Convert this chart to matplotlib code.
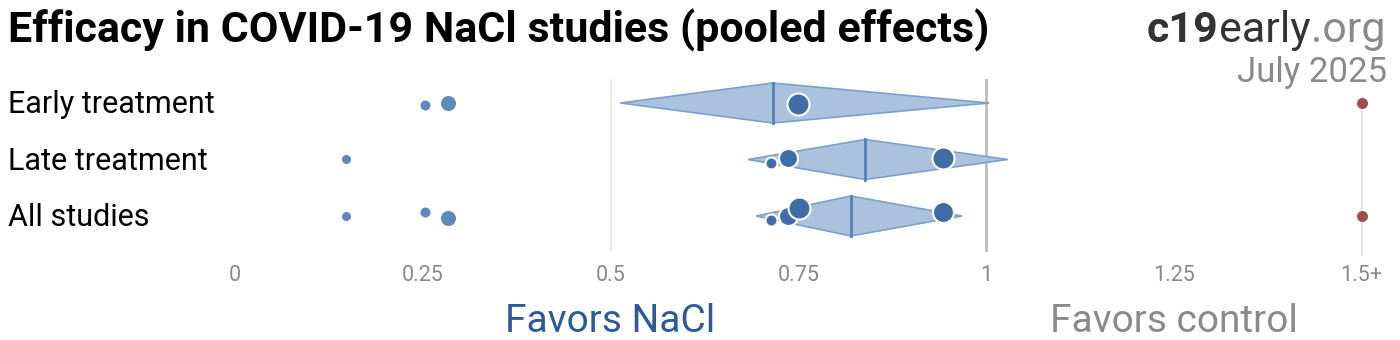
import matplotlib.pyplot as plt
from matplotlib.patches import Polygon

plt.rcParams['font.family'] = ['Roboto', 'DejaVu Sans']

# --- data ---
groups = ['Early treatment', 'Late treatment', 'All studies']
# pooled effect: lower, estimate, upper
pooled_lo = [0.513, 0.683, 0.694]
pooled_est = [0.716, 0.839, 0.820]
pooled_hi = [1.004, 1.029, 0.968]
# individual studies (1.5 = clipped at 1.5+)
early_vals = [0.253, 0.284, 0.750, 1.5]
early_wts = [5, 7.5, 10, 5.5]
early_jit = [2, 0, 1, 0]
late_vals = [0.148, 0.714, 0.736, 0.943]
late_wts = [4.5, 5, 8.5, 10]
late_jit = [0, 3, -1, -1]
all_vals = [0.148, 0.253, 0.284, 0.714, 0.736, 0.751, 0.943, 1.5]
all_wts = [4.5, 5, 7.5, 5, 8.5, 10, 9.5, 5.5]
all_jit = [0, -4, 2, 4, 0, -8, -4, 0]
ticks = [0, 0.25, 0.5, 0.75, 1, 1.25, 1.5]
tick_labels = ['0', '0.25', '0.5', '0.75', '1', '1.25', '1.5+']

W, H = 1400, 340
X0, X1 = 235, 986          # pixel of x=0 and x=1
ROW0, ROWSTEP = 103, 56.5  # pixel of first row and spacing

fig = plt.figure(figsize=(W / 100, H / 100), dpi=100)
ax = fig.add_axes([0, 0, 1, 1])
ax.set_xlim(-X0 / (X1 - X0), (W - X0) / (X1 - X0))
ax.set_ylim((H - ROW0) / ROWSTEP, -ROW0 / ROWSTEP)
ax.axis('off')

def py(p):
    # pixel offset -> row units
    return p / ROWSTEP

# grid lines
ax.plot([0.5, 0.5], [py(80 - ROW0), py(250 - ROW0)], color='#e6e6e6', lw=1.2, zorder=0)
ax.plot([1.5, 1.5], [py(98 - ROW0), py(255 - ROW0)], color='#e6e6e6', lw=1.5, zorder=0)
ax.plot([1, 1], [py(80 - ROW0), py(250 - ROW0)], color='#bdbdbd', lw=2, zorder=0)

half = py(20)
for i in range(len(groups)):
    lo, est, hi = pooled_lo[i], pooled_est[i], pooled_hi[i]
    dia = Polygon([(lo, i), (est, i - half), (hi, i), (est, i + half)], closed=True,
                  facecolor='#abc2df', edgecolor='#7ba0cb', lw=1.2, zorder=2)
    ax.add_patch(dia)
    ax.plot([est, est], [i - half, i + half], color='#5680b5', lw=2, zorder=3)

rows = [(early_vals, early_wts, early_jit), (late_vals, late_wts, late_jit),
        (all_vals, all_wts, all_jit)]
for i, (vals, wts, jit) in enumerate(rows):
    for v, r, j in zip(vals, wts, jit):
        s = (2 * r * 0.72) ** 2
        y = i + py(j)
        if v >= 1.5:
            ax.scatter(v, y, s=s, color='#a44a4c', zorder=4, linewidths=0)
        elif v < pooled_lo[i]:
            ax.scatter(v, y, s=s, color='#5f89bb', zorder=4, linewidths=0)
        else:
            ax.scatter(v, y, s=(2 * (r + 1) * 0.72) ** 2, color='#3f6ea6',
                       edgecolors='white', linewidths=1.5, zorder=4)

for t, lab in zip(ticks, tick_labels):
    ax.text(t, py(281 - ROW0), lab, ha='center', va='baseline', fontsize=15.5, color='#8a8a8a')

for i, g in enumerate(groups):
    fig.text(8 / W, 1 - (ROW0 + 10.5 + i * ROWSTEP) / H, g, ha='left', va='baseline',
             fontsize=22, color='black')

ax.text(0.5, py(332 - ROW0), 'Favors NaCl', ha='center', va='baseline', fontsize=28, color='#2b5b98')
ax.text(1.25, py(332 - ROW0), 'Favors control', ha='center', va='baseline', fontsize=28, color='#8a8a8a')

fig.text(8 / W, 1 - 42 / H, 'Efficacy in COVID-19 NaCl studies (pooled effects)', ha='left',
         va='baseline', fontsize=31, fontweight='bold', color='black')

# logo: c19 bold, early regular, .org grey, right aligned
t1 = fig.text(1385 / W, 1 - 42 / H, '.org', ha='right', va='baseline', fontsize=31, color='#8a8a8a')
fig.canvas.draw()
bb = t1.get_window_extent()
t2 = fig.text(bb.x0 / W, 1 - 42 / H, 'early', ha='right', va='baseline', fontsize=31, color='#333333')
fig.canvas.draw()
bb = t2.get_window_extent()
fig.text(bb.x0 / W, 1 - 42 / H, 'c19', ha='right', va='baseline', fontsize=31,
         fontweight='bold', color='#333333')
fig.text(1387 / W, 1 - 82 / H, 'July 2025', ha='right', va='baseline', fontsize=25, color='#8a8a8a')

fig.savefig('out.png', dpi=100)
